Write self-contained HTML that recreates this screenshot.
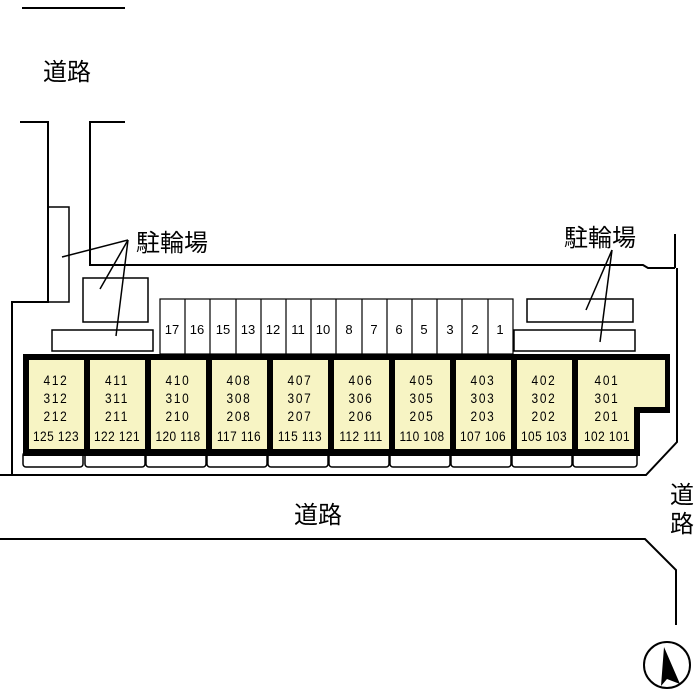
<!DOCTYPE html>
<html><head><meta charset="utf-8"><style>
html,body{margin:0;padding:0;background:#fff;}
svg{display:block;}
.t{font-family:"Liberation Sans","Noto Sans CJK JP",sans-serif;}
.j{font-family:"Noto Sans CJK JP",sans-serif;}
</style></head><body>
<svg width="700" height="700" viewBox="0 0 700 700" xmlns="http://www.w3.org/2000/svg">
<g fill="none" stroke="#000" stroke-width="2">
<line x1="22" y1="8" x2="125" y2="8"/>
<polyline points="20,122 48,122 48,302 12,302 12,476"/>
<rect x="48" y="207" width="21" height="95" stroke-width="1.5"/>
<polyline points="125,122 90,122 90,265 643,265 648,268 675,268"/>
<line x1="675" y1="234" x2="675" y2="268"/>
<polyline points="677,268 677,442 646,475 0,475"/>
<rect x="83" y="278" width="65" height="44" stroke-width="1.5"/>
<rect x="52" y="330" width="101" height="21" stroke-width="1.5"/>
<rect x="527" y="299" width="106" height="23" stroke-width="1.5"/>
<rect x="514" y="330" width="121" height="21" stroke-width="1.5"/>
<polyline points="0,539 645,539 676,570 676,625"/>
<g stroke-width="1.5">
<line x1="128" y1="240" x2="62" y2="257"/>
<line x1="128" y1="240" x2="100" y2="289"/>
<line x1="128" y1="240" x2="116" y2="336"/>
<line x1="612" y1="250" x2="586" y2="310"/>
<line x1="612" y1="250" x2="600" y2="342"/>
</g>
<g stroke-width="1.2">
<rect x="160" y="299" width="353" height="55"/>
<line x1="185" y1="299" x2="185" y2="354"/><line x1="210" y1="299" x2="210" y2="354"/>
<line x1="236" y1="299" x2="236" y2="354"/><line x1="261" y1="299" x2="261" y2="354"/>
<line x1="286" y1="299" x2="286" y2="354"/><line x1="311" y1="299" x2="311" y2="354"/>
<line x1="336" y1="299" x2="336" y2="354"/><line x1="362" y1="299" x2="362" y2="354"/>
<line x1="387" y1="299" x2="387" y2="354"/><line x1="412" y1="299" x2="412" y2="354"/>
<line x1="437" y1="299" x2="437" y2="354"/><line x1="462" y1="299" x2="462" y2="354"/>
<line x1="488" y1="299" x2="488" y2="354"/>
</g>
</g>
<g class="t" font-size="13" text-anchor="middle">
<text x="172" y="334">17</text><text x="197" y="334">16</text><text x="223" y="334">15</text><text x="248" y="334">13</text><text x="273" y="334">12</text><text x="298" y="334">11</text><text x="323" y="334">10</text><text x="349" y="334">8</text><text x="374" y="334">7</text><text x="399" y="334">6</text><text x="424" y="334">5</text><text x="450" y="334">3</text><text x="475" y="334">2</text><text x="500" y="334">1</text>
</g>
<g fill="#fff" stroke="#000" stroke-width="1.5">
<rect x="23" y="452" width="60" height="15" rx="3"/><rect x="85" y="452" width="60" height="15" rx="3"/>
<rect x="146" y="452" width="60" height="15" rx="3"/><rect x="207" y="452" width="60" height="15" rx="3"/>
<rect x="268" y="452" width="60" height="15" rx="3"/><rect x="329" y="452" width="60" height="15" rx="3"/>
<rect x="390" y="452" width="60" height="15" rx="3"/><rect x="451" y="452" width="60" height="15" rx="3"/>
<rect x="512" y="452" width="60" height="15" rx="3"/><rect x="573" y="452" width="64" height="15" rx="3"/>
</g>
<polygon points="23,354 670,354 670,413 640,413 640,456 23,456" fill="#000"/>
<g fill="#f7f4c4">
<rect x="29" y="360" width="55" height="89"/><rect x="90" y="360" width="55" height="89"/>
<rect x="151" y="360" width="55" height="89"/><rect x="212" y="360" width="55" height="89"/>
<rect x="273" y="360" width="55" height="89"/><rect x="334" y="360" width="55" height="89"/>
<rect x="395" y="360" width="55" height="89"/><rect x="456" y="360" width="55" height="89"/>
<rect x="517" y="360" width="55" height="89"/>
<polygon points="578,360 665,360 665,407 634,407 634,449 578,449"/>
</g>
<g class="t" font-size="14" text-anchor="middle">
<g transform="translate(56,0) scale(0.85,1)"><text y="385" letter-spacing="2">412</text><text y="403" letter-spacing="2">312</text><text y="421" letter-spacing="2">212</text><text y="441" letter-spacing="0.5">125 123</text></g>
<g transform="translate(117,0) scale(0.85,1)"><text y="385" letter-spacing="2">411</text><text y="403" letter-spacing="2">311</text><text y="421" letter-spacing="2">211</text><text y="441" letter-spacing="0.5">122 121</text></g>
<g transform="translate(178,0) scale(0.85,1)"><text y="385" letter-spacing="2">410</text><text y="403" letter-spacing="2">310</text><text y="421" letter-spacing="2">210</text><text y="441" letter-spacing="0.5">120 118</text></g>
<g transform="translate(239,0) scale(0.85,1)"><text y="385" letter-spacing="2">408</text><text y="403" letter-spacing="2">308</text><text y="421" letter-spacing="2">208</text><text y="441" letter-spacing="0.5">117 116</text></g>
<g transform="translate(300,0) scale(0.85,1)"><text y="385" letter-spacing="2">407</text><text y="403" letter-spacing="2">307</text><text y="421" letter-spacing="2">207</text><text y="441" letter-spacing="0.5">115 113</text></g>
<g transform="translate(361,0) scale(0.85,1)"><text y="385" letter-spacing="2">406</text><text y="403" letter-spacing="2">306</text><text y="421" letter-spacing="2">206</text><text y="441" letter-spacing="0.5">112 111</text></g>
<g transform="translate(422,0) scale(0.85,1)"><text y="385" letter-spacing="2">405</text><text y="403" letter-spacing="2">305</text><text y="421" letter-spacing="2">205</text><text y="441" letter-spacing="0.5">110 108</text></g>
<g transform="translate(483,0) scale(0.85,1)"><text y="385" letter-spacing="2">403</text><text y="403" letter-spacing="2">303</text><text y="421" letter-spacing="2">203</text><text y="441" letter-spacing="0.5">107 106</text></g>
<g transform="translate(544,0) scale(0.85,1)"><text y="385" letter-spacing="2">402</text><text y="403" letter-spacing="2">302</text><text y="421" letter-spacing="2">202</text><text y="441" letter-spacing="0.5">105 103</text></g>
<g transform="translate(607,0) scale(0.85,1)"><text y="385" letter-spacing="2">401</text><text y="403" letter-spacing="2">301</text><text y="421" letter-spacing="2">201</text><text y="441" letter-spacing="0.5">102 101</text></g>
</g>
<g class="j" font-size="24">
<text x="43" y="80">道路</text>
<text x="294" y="523">道路</text>
<text x="136" y="251">駐輪場</text>
<text x="564" y="246">駐輪場</text>
<text x="670" y="503">道</text>
<text x="670" y="532">路</text>
</g>
<circle cx="667" cy="665" r="23" fill="none" stroke="#000" stroke-width="2"/>
<polygon points="664,647 680,684 667,679 661,686" fill="#000"/>
</svg>
</body></html>
